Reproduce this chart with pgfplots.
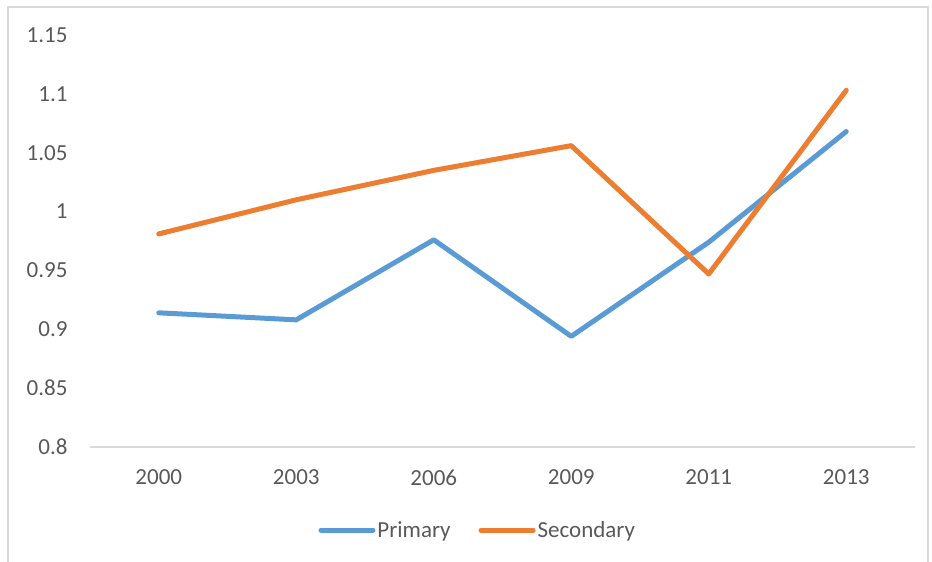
\documentclass[border=0pt]{standalone}
\usepackage{fontspec}
\setmainfont{Carlito}
\usepackage{pgfplots}
\pgfplotsset{compat=1.18}
\definecolor{cblue}{HTML}{5B9BD5}
\definecolor{corange}{HTML}{ED7D31}
\definecolor{ctext}{HTML}{595959}
\definecolor{cgrid}{HTML}{D9D9D9}
\begin{document}
\begin{tikzpicture}
\useasboundingbox (0pt,0pt) rectangle (932pt,562pt);
\draw[cgrid, line width=1.5pt] (8pt,-5pt) rectangle (928pt,555pt);
\begin{axis}[
  at={(90pt,115pt)}, anchor=south west,
  scale only axis, width=825pt, height=412pt,
  xmin=-0.5, xmax=5.5, ymin=0.8, ymax=1.15,
  xtick={0,1,2,3,4,5},
  xticklabels={2000,2003,2006,2009,2011,2013},
  ytick={0.8,0.85,0.9,0.95,1,1.05,1.1,1.15},
  yticklabels={0.8,0.85,0.9,0.95,1,1.05,1.1,1.15},
  axis line style={draw=none},
  major tick length=0pt,
  tick label style={font=\fontsize{23}{26}\selectfont, text=ctext},
  /pgf/number format/assume math mode=true,
  yticklabel style={xshift=-19pt},
  xticklabel style={yshift=-19pt},
  clip=false,
  legend style={at={(0.470,-0.2015)}, anchor=center, legend columns=2, draw=none, fill=none,
    font=\fontsize{23}{26}\selectfont, text=ctext,
    /tikz/every even column/.append style={column sep=26pt}},
  legend image code/.code={\draw[#1, line cap=round] (0pt,0pt) -- (52pt,0pt);},
]
\draw[cgrid, line width=1.5pt] (axis cs:-0.5,0.8) -- (axis cs:5.5,0.8);
\addplot[cblue, line width=5pt, line join=round, line cap=round] coordinates {
  (0,0.914) (1,0.908) (2,0.976) (3,0.894) (4,0.974) (5,1.068)};
\addlegendentry{Primary}
\addplot[corange, line width=5pt, line join=round, line cap=round] coordinates {
  (0,0.981) (1,1.010) (2,1.035) (3,1.056) (4,0.947) (5,1.103)};
\addlegendentry{Secondary}
\end{axis}
\end{tikzpicture}
\end{document}
